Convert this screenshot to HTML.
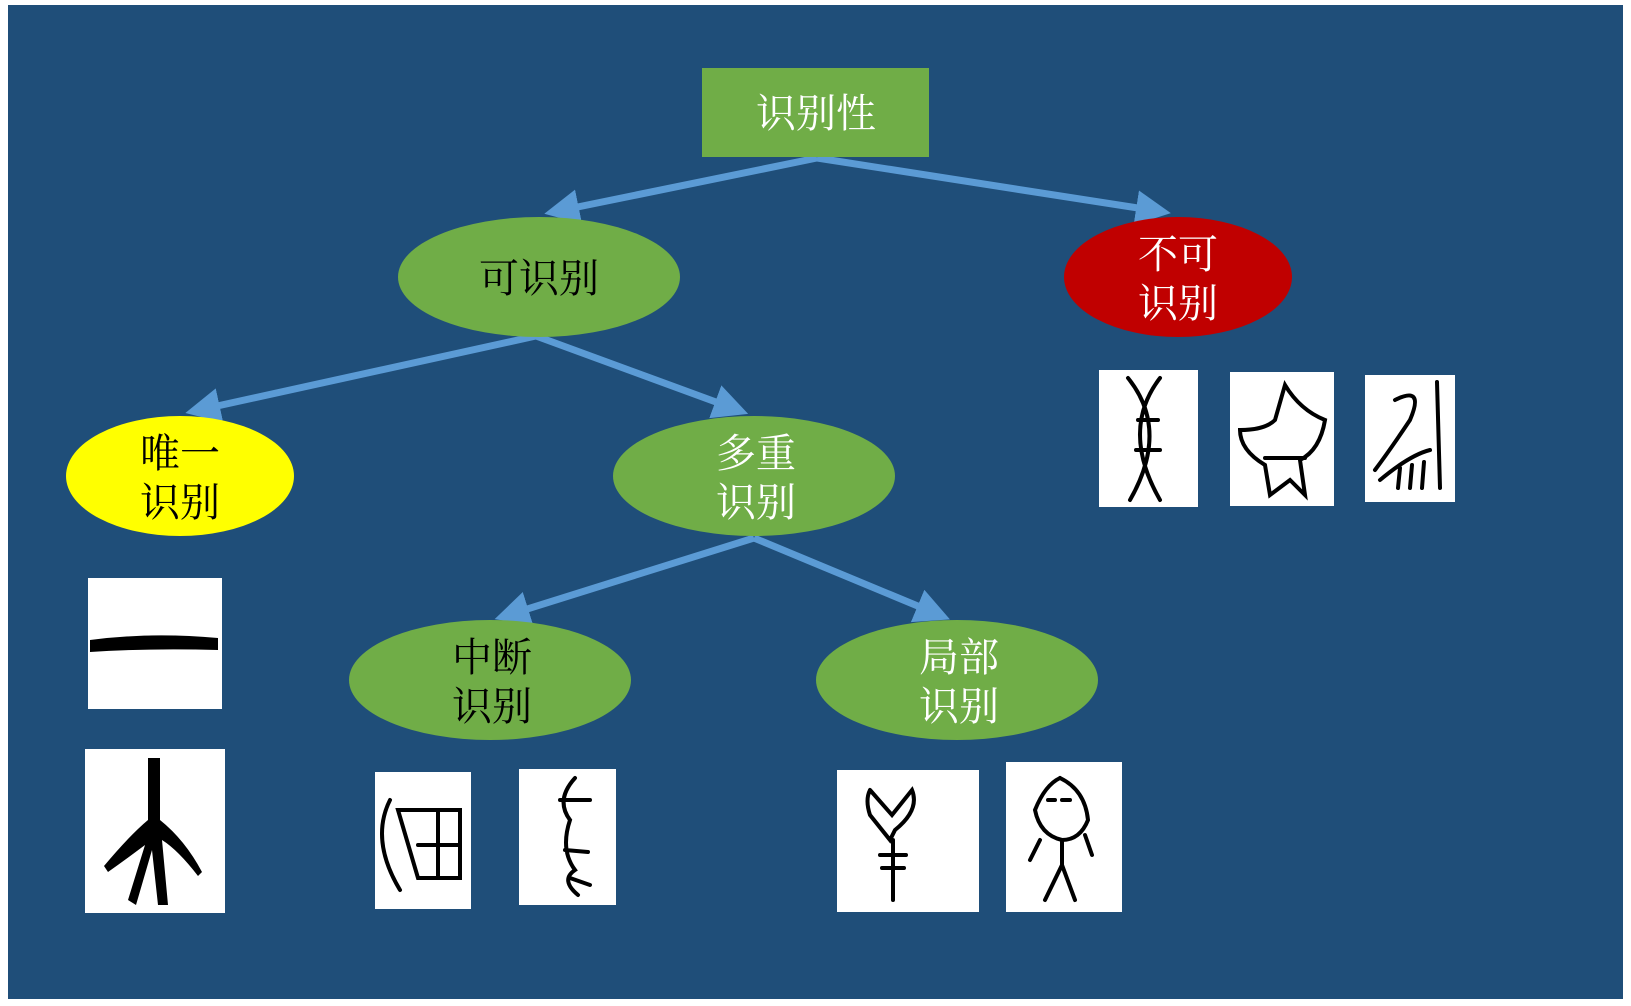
<!DOCTYPE html>
<html><head><meta charset="utf-8"><style>
html,body{margin:0;padding:0;background:#fff;}
svg{display:block}
text{font-family:"Liberation Serif","Noto Serif CJK SC","Noto Sans CJK SC",serif;font-size:40px;text-anchor:middle;}
</style></head><body>
<svg width="1631" height="1006" viewBox="0 0 1631 1006" xmlns="http://www.w3.org/2000/svg">
<defs>
<marker id="ah" markerWidth="5" markerHeight="5" refX="3" refY="2.5" orient="auto" markerUnits="strokeWidth">
<path d="M0,0 L5,2.5 L0,5 Z" fill="#5B9BD5"/></marker>
</defs>
<rect x="8" y="5" width="1615" height="994" fill="#1F4E79"/>
<g stroke="#5B9BD5" stroke-width="7" fill="none" marker-end="url(#ah)">
<line x1="817" y1="158" x2="558" y2="211"/>
<line x1="817" y1="158" x2="1157" y2="211"/>
<line x1="536" y1="336" x2="199" y2="410"/>
<line x1="536" y1="336" x2="735" y2="409"/>
<line x1="754" y1="538" x2="508" y2="615"/>
<line x1="754" y1="538" x2="937" y2="614"/>
</g>
<rect x="702" y="68" width="227" height="89" fill="#70AD47"/>
<text x="816" y="127" fill="#fff">识别性</text>
<ellipse cx="539" cy="277" rx="141" ry="60" fill="#70AD47"/>
<text x="539" y="292" fill="#000">可识别</text>
<ellipse cx="1178" cy="277" rx="114" ry="60" fill="#C00000"/>
<text x="1178" y="268" fill="#fff">不可</text><text x="1178" y="317" fill="#fff">识别</text>
<ellipse cx="180" cy="476" rx="114" ry="60" fill="#FFFF00"/>
<text x="180" y="467" fill="#000">唯一</text><text x="180" y="516" fill="#000">识别</text>
<ellipse cx="754" cy="476" rx="141" ry="60" fill="#70AD47"/>
<text x="756" y="467" fill="#fff">多重</text><text x="756" y="516" fill="#fff">识别</text>
<ellipse cx="490" cy="680" rx="141" ry="60" fill="#70AD47"/>
<text x="492" y="671" fill="#000">中断</text><text x="492" y="720" fill="#000">识别</text>
<ellipse cx="957" cy="680" rx="141" ry="60" fill="#70AD47"/>
<text x="959" y="671" fill="#fff">局部</text><text x="959" y="720" fill="#fff">识别</text>
<g fill="#fff">
<rect x="1099" y="370" width="99" height="137"/>
<rect x="1230" y="372" width="104" height="134"/>
<rect x="1365" y="375" width="90" height="127"/>
<rect x="88" y="578" width="134" height="131"/>
<rect x="85" y="749" width="140" height="164"/>
<rect x="375" y="772" width="96" height="137"/>
<rect x="519" y="769" width="97" height="136"/>
<rect x="837" y="770" width="142" height="142"/>
<rect x="1006" y="762" width="116" height="150"/>
</g>
<g stroke="#000" stroke-width="4" fill="none" stroke-linecap="round">
<path d="M1128,378 Q1170,430 1130,500 M1160,378 Q1120,430 1160,500 M1138,420 L1158,420 M1136,450 L1160,450"/>
<path d="M1285,385 Q1300,410 1325,420 Q1320,450 1300,460 L1305,495 L1290,480 L1270,495 L1265,465 Q1240,450 1240,430 Q1265,430 1275,420 Z M1265,458 L1305,458"/>
<path d="M1437,382 L1440,488 M1395,400 Q1425,385 1410,420 Q1390,450 1375,470 M1380,480 Q1410,455 1430,450 M1400,468 L1398,488 M1412,465 L1410,488 M1424,462 L1422,488"/>
<path d="M390,800 Q370,840 400,890 M398,810 L460,810 L460,878 L418,878 Z M418,845 L460,845 M438,812 L438,878"/>
<path d="M575,778 Q555,800 570,820 Q560,850 575,870 Q560,880 578,895 M560,800 L590,800 M565,850 L588,852 M570,878 L590,885"/>
<path d="M870,790 L892,815 L912,790 Q920,810 895,830 L890,840 L870,815 Q865,800 870,790 M893,840 L893,900 M880,855 L906,855 M882,868 L904,868"/>
<path d="M1060,778 Q1085,790 1088,820 Q1080,840 1062,840 Q1040,835 1035,810 Q1045,785 1060,778 M1048,800 L1055,800 M1062,800 L1070,800 M1062,840 L1062,865 L1045,900 M1062,865 L1075,900 M1040,840 L1030,860 M1085,835 L1092,855"/>
</g>
<path d="M90,640 Q150,632 218,638 L218,650 Q150,648 90,652 Z" fill="#000"/>
<path d="M148,758 L160,758 L160,820 Q185,840 202,872 L198,876 Q178,850 162,840 L168,905 L158,905 L152,850 L136,905 L128,900 L145,845 Q125,860 108,872 L104,866 Q130,835 148,820 Z" fill="#000"/>
</svg>
</body></html>
